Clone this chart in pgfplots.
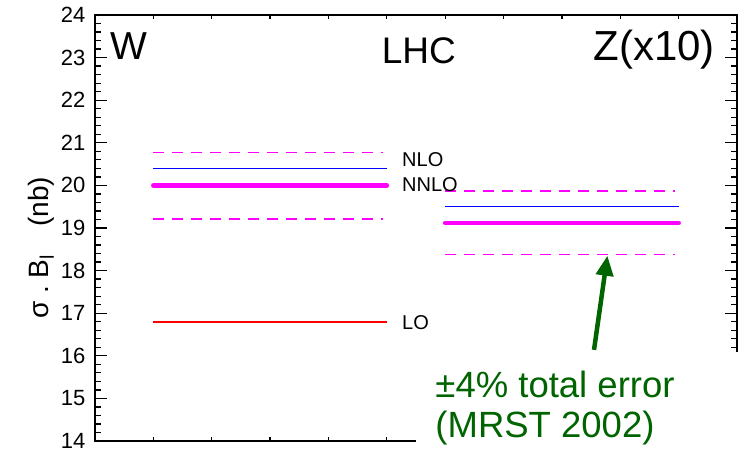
\documentclass[border=0pt]{standalone}
\usepackage{fontspec}
\setmainfont{Liberation Sans}
\usepackage{pgfplots}
\pgfplotsset{compat=1.18}
\usetikzlibrary{arrows.meta}
\definecolor{mag}{RGB}{255,0,255}
\definecolor{dgreen}{RGB}{0,100,0}
\begin{document}
\begin{tikzpicture}
\begin{axis}[
 scale only axis, width=642pt, height=426pt,
 xmin=0, xmax=11, ymin=14, ymax=24,
 xtick={1,...,10}, xticklabels={},
 ytick={14,...,24}, minor y tick num=4,
 tick align=inside,
 major tick length=12pt, minor tick length=6pt,
 xtick style={/pgfplots/major tick length=4pt},
 axis line style={line width=1.4pt},
 every tick/.style={black, line width=1.3pt},
 yticklabel style={font=\fontsize{22}{22}\selectfont, xshift=-6pt},
 /pgf/number format/assume math mode=true,
 clip=false,
]
% W
\addplot[mag, line width=1.5pt, dash pattern=on 11pt off 8pt] coordinates {(1,20.77) (4.93,20.77)};
\addplot[blue, line width=1.3pt] coordinates {(1,20.40) (5,20.40)};
\addplot[mag, line width=4.6pt, line cap=round] coordinates {(1,20.0) (5,20.0)};
\addplot[mag, line width=1.5pt, dash pattern=on 11pt off 8pt] coordinates {(1,19.21) (4.93,19.21)};
\addplot[red, line width=2pt] coordinates {(1,16.79) (5,16.79)};
% Z
\addplot[mag, line width=1.5pt, dash pattern=on 11pt off 8pt] coordinates {(6,19.87) (9.93,19.87)};
\addplot[blue, line width=1.3pt] coordinates {(6,19.51) (10,19.51)};
\addplot[mag, line width=4.6pt, line cap=round] coordinates {(6,19.12) (10,19.12)};
\addplot[mag, line width=1.5pt, dash pattern=on 11pt off 8pt] coordinates {(6,18.38) (9.93,18.38)};
% white cover
\fill[white] (axis cs:5.5,13.5) rectangle (axis cs:11.5,16.09);
% texts
\node[font=\fontsize{39}{39}\selectfont] at (axis cs:0.58,23.26) {W};
\node[font=\fontsize{37}{37}\selectfont] at (axis cs:5.55,23.17) {LHC};
\node[font=\fontsize{42}{42}\selectfont] at (axis cs:9.58,23.19) {Z(x10)};
\node[font=\fontsize{20}{20}\selectfont, anchor=west, inner sep=0pt] at (axis cs:5.26,20.61) {NLO};
\node[font=\fontsize{20}{20}\selectfont, anchor=west, inner sep=0pt] at (axis cs:5.26,20.02) {NNLO};
\node[font=\fontsize{20}{20}\selectfont, anchor=west, inner sep=0pt] at (axis cs:5.26,16.78) {LO};
\node[font=\fontsize{36.5}{36.5}\selectfont, anchor=west, inner sep=0pt, text=dgreen] at (axis cs:5.83,15.32) {±4\% total error};
\node[font=\fontsize{36.5}{36.5}\selectfont, anchor=west, inner sep=0pt, text=dgreen] at (axis cs:5.83,14.31) {(MRST 2002)};
\draw[dgreen, line width=4.5pt, -{Triangle[length=20pt, width=17pt]}] (axis cs:8.55,16.14) -- (axis cs:8.78,18.35);
\node[rotate=90, font=\fontsize{28}{28}\selectfont] at ([xshift=-54pt]rel axis cs:0,0.453) {σ\ .\ B\textsubscript{l}\quad(nb)};
\coordinate (bl) at ([xshift=-95pt,yshift=-8pt]rel axis cs:0,0);
\coordinate (tr) at ([xshift=4pt,yshift=15pt]rel axis cs:1,1);
\end{axis}
\pgfresetboundingbox
\path[use as bounding box] (bl) rectangle (tr);
\end{tikzpicture}
\end{document}
